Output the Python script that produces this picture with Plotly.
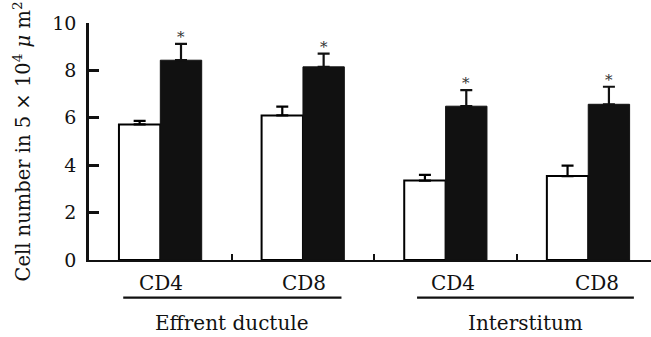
import plotly.graph_objects as go

groups = ["Effrent ductule", "Interstitum"]
cell_types = ["CD4", "CD8", "CD4", "CD8"]
x_pos = [0, 1, 2, 3]
white_vals = [5.72, 6.10, 3.35, 3.54]
white_err = [0.15, 0.37, 0.24, 0.44]
black_vals = [8.43, 8.15, 6.49, 6.57]
black_err = [0.69, 0.56, 0.68, 0.74]
significant = ["*", "*", "*", "*"]
y_ticks = [0, 2, 4, 6, 8, 10]

FONT = "DejaVu Serif"
fig = go.Figure()
fig.add_trace(go.Bar(
    x=x_pos, y=white_vals, name="control",
    marker=dict(color="white", line=dict(color="black", width=2)),
    error_y=dict(type="data", array=white_err, arrayminus=[0]*4, symmetric=False,
                 color="black", thickness=2.2, width=6),
))
fig.add_trace(go.Bar(
    x=x_pos, y=black_vals, name="treated",
    marker=dict(color="#111111", line=dict(color="#111111", width=1)),
    error_y=dict(type="data", array=black_err, arrayminus=[0]*4, symmetric=False,
                 color="#111111", thickness=2.2, width=6),
))

fig.update_layout(
    width=651, height=337,
    margin=dict(l=89, r=0, t=23, b=77),
    paper_bgcolor="white", plot_bgcolor="white",
    barmode="group", bargap=0.42, bargroupgap=0,
    showlegend=False,
    font=dict(family=FONT, color="#111111", size=20),
    xaxis=dict(range=[-0.5, 3.44], showgrid=False, zeroline=False,
               showline=True, linecolor="#111111", linewidth=2,
               tickvals=[0.5, 1.5, 2.5], ticks="inside", ticklen=6, tickwidth=2,
               tickcolor="#111111", showticklabels=False),
    yaxis=dict(range=[0, 10], showgrid=False, zeroline=False,
               showline=True, linecolor="#111111", linewidth=2.5,
               tickvals=y_ticks, ticks="inside", ticklen=10, tickwidth=2.5,
               tickcolor="#111111", ticklabelstandoff=6,
               tickfont=dict(family=FONT, size=19, color="#111111")),
)

# asterisks
bw = (1 - 0.42) / 2
for i, xv in enumerate(x_pos):
    fig.add_annotation(x=xv + bw / 2, y=black_vals[i] + black_err[i], text=significant[i],
                       showarrow=False, yanchor="bottom", yshift=-4,
                       font=dict(family=FONT, size=15, color="#333333"))

# category labels
lab_off = [0.007, 0.005, 0.05, 0.06]
for i, xv in enumerate(x_pos):
    fig.add_annotation(x=xv + lab_off[i], y=-0.095, yref="paper", text=cell_types[i],
                       showarrow=False, yanchor="middle",
                       font=dict(family=FONT, size=20, color="#111111"))

# group lines and labels
spans = [(-0.26, 1.27), (1.80, 3.32)]
centers = [0.50, 2.56]
for g, (a, b) in enumerate(spans):
    fig.add_shape(type="line", x0=a, x1=b, y0=-0.159, y1=-0.159, yref="paper",
                  line=dict(color="#111111", width=2.2))
    fig.add_annotation(x=centers[g], y=-0.264, yref="paper", text=groups[g],
                       showarrow=False, yanchor="middle",
                       font=dict(family=FONT, size=20, color="#111111"))

fig.add_annotation(x=-0.12, y=0.498, xref="paper", yref="paper",
                   text="Cell number in 5 × 10<sup>4</sup> <i>μ</i> m<sup>2</sup>",
                   textangle=-90, showarrow=False, xanchor="center", yanchor="middle",
                   font=dict(family=FONT, size=19.5, color="#111111"))

fig.write_html("out.html", config={"displayModeBar": False},
               post_script="document.body.style.margin='0';")
